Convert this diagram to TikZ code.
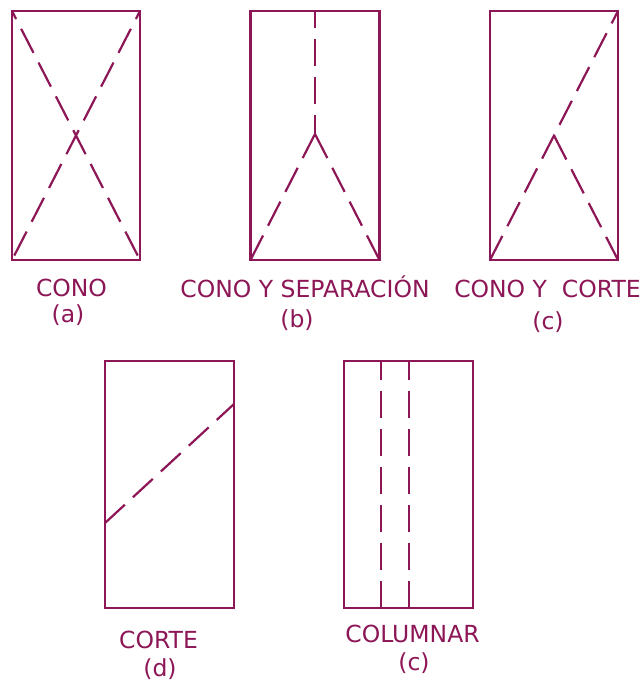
\documentclass[tikz,border=0pt]{standalone}
\usepackage{fontspec}
\setmainfont{DejaVu Sans}
\definecolor{mag}{RGB}{140,22,86}
\begin{document}
\begin{tikzpicture}[x=1pt,y=-1pt,
  box/.style={draw=mag,line width=2.2pt,rectangle,outer sep=0pt,inner sep=0pt,minimum width=#1,minimum height=249pt},
  box/.default=128pt,
  dline/.style={draw=mag,line width=2.2pt,dash pattern=on 27pt off 11pt},
  lbl/.style={text=mag,font=\fontsize{23.5}{28}\selectfont,anchor=base,inner sep=0pt}]
\useasboundingbox (0,0) rectangle (642,682);
% boxes
\node[box=128pt] (A) at (76,135.5) {};
\node[box=129pt] (B) at (315,135.5) {};
\node[box=128pt] (C) at (554,135.5) {};
\node[box=129pt,minimum height=247pt] (D) at (169.5,484.5) {};
\node[box=129pt,minimum height=247pt] (E) at (408.5,484.5) {};
% (a) cone
\draw[dline,dash phase=18pt] (A.north west) -- (A.south east);
\draw[dline,dash phase=18pt] (A.north east) -- (A.south west);
% (b) cone and separation
\coordinate (Bap) at (315,134);
\draw[dline,dash phase=10pt] (B.north) -- (Bap);
\draw[dline] (Bap) -- (B.south west);
\draw[dline] (Bap) -- (B.south east);
% (c) cone and cut
\draw[dline] (C.south west) -- (C.north east);
\draw[dline] (C.center) -- (C.south east);
% (d) cut
\coordinate (Dl) at (105,523);
\coordinate (Dr) at (234,404);
\draw[dline] (Dl) -- (Dr);
% (e) columnar
\coordinate (E1t) at (381,361);
\coordinate (E1b) at (381,608);
\coordinate (E2t) at (409,361);
\coordinate (E2b) at (409,608);
\draw[dline,dash phase=8pt] (E1t) -- (E1b);
\draw[dline,dash phase=8pt] (E2t) -- (E2b);
% labels
\node[lbl] (La1) at (71.5,296) {CONO};
\node[lbl] (La2) at (68,322) {(a)};
\node[lbl] (Lb1) at (305,297) {CONO Y SEPARACIÓN};
\node[lbl] (Lb2) at (297,327) {(b)};
\node[lbl] (Lc1) at (547.5,297) {CONO Y\ \ CORTE};
\node[lbl] (Lc2) at (548,329) {(c)};
\node[lbl] (Ld1) at (158.5,648) {CORTE};
\node[lbl] (Ld2) at (160,676) {(d)};
\node[lbl] (Le1) at (412.5,642) {COLUMNAR};
\node[lbl] (Le2) at (414,670) {(c)};
\end{tikzpicture}
\end{document}
